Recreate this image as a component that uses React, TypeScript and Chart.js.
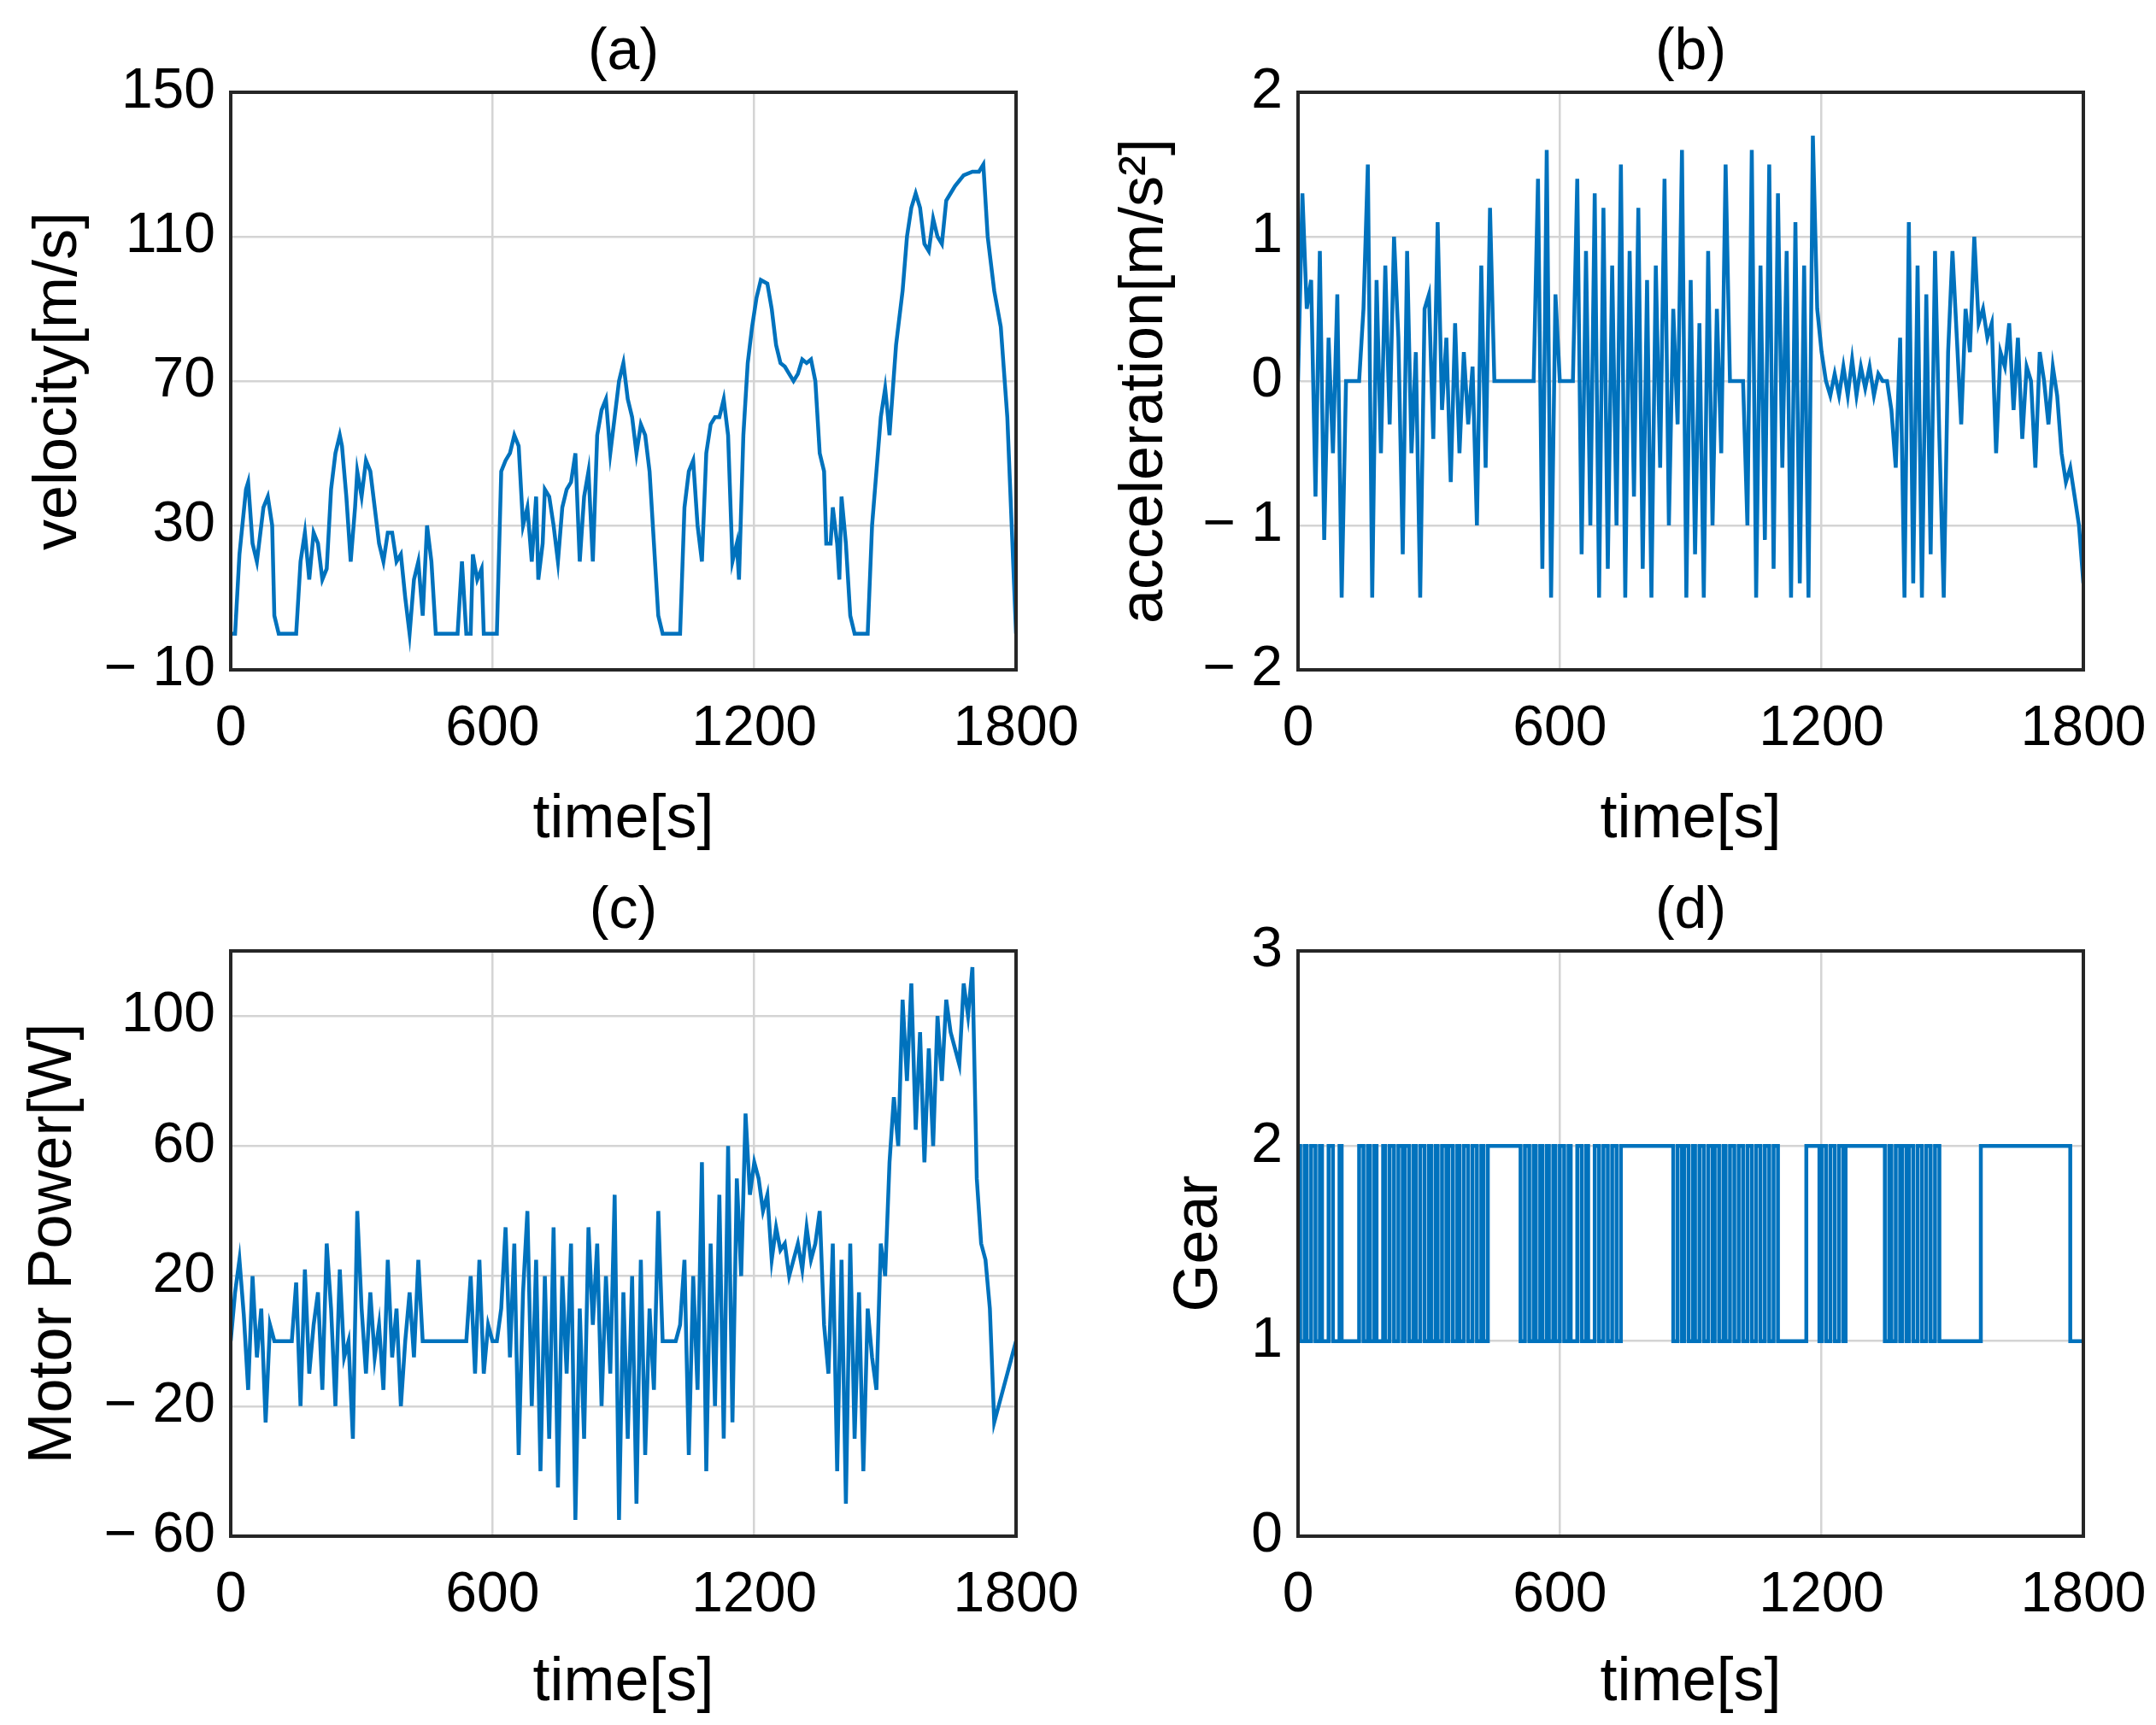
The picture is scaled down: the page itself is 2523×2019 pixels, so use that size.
import React, { useEffect, useRef } from "react";
import { Chart, registerables } from "chart.js";
Chart.register(...registerables);

const velT = [0,10,20,35,40,50,60,75,85,95,100,110,150,160,170,180,190,200,210,220,230,240,250,255,265,275,285,290,300,310,320,330,340,350,360,370,380,390,400,410,420,430,440,450,460,470,520,530,540,550,555,565,575,580,610,620,630,640,650,660,670,680,690,700,705,715,720,730,740,750,760,770,780,790,800,810,820,830,840,850,860,870,880,890,900,910,920,930,940,950,960,970,980,990,1030,1040,1050,1060,1070,1080,1090,1100,1110,1120,1130,1140,1150,1160,1165,1175,1185,1195,1205,1215,1230,1240,1250,1260,1270,1280,1290,1300,1310,1320,1330,1340,1350,1360,1365,1375,1380,1390,1395,1400,1410,1420,1430,1460,1470,1480,1490,1500,1505,1510,1525,1540,1550,1560,1570,1580,1590,1600,1610,1620,1630,1640,1660,1680,1700,1715,1725,1735,1750,1765,1780,1800];
const velV = [0,0,22,40,42,25,20,35,38,30,5,0,0,20,28,15,28,25,15,18,40,50,55,52,38,20,35,45,38,48,45,35,25,20,28,28,20,22,10,0,15,20,5,30,20,0,0,20,0,0,22,15,18,0,0,45,48,50,55,52,30,35,20,38,15,25,40,38,30,20,35,40,42,50,20,38,45,20,55,62,65,50,60,70,75,65,60,50,58,55,45,25,5,0,0,35,45,48,30,20,50,58,60,60,65,55,20,25,15,55,75,85,93,98,97,90,80,75,74,72,70,72,76,75,76,70,50,45,25,25,35,25,15,38,25,5,0,0,30,45,60,68,62,55,80,95,110,118,122,118,108,106,115,110,108,120,124,127,128,128,130,110,95,85,60,0];

const accV = [0,1.3,0.5,0.7,-0.8,0.9,-1.1,0.3,-0.5,0.6,
-1.5,0,0,0,0,0.5,1.5,-1.5,0.7,-0.5,
0.8,-0.3,1.0,0.3,-1.2,0.9,-0.5,0.2,-1.5,0.5,
0.6,-0.4,1.1,-0.2,0.3,-0.7,0.4,-0.5,0.2,-0.3,
0.1,-1.0,0.8,-0.6,1.2,0,0,0,0,0,
0,0,0,0,0,1.4,-1.3,1.6,-1.5,0.6,
0,0,0,0,1.4,-1.2,0.9,-1.0,1.3,-1.5,
1.2,-1.3,0.8,-1.0,1.5,-1.5,0.9,-0.8,1.2,-1.3,
0.7,-1.5,0.8,-0.6,1.4,-1.0,0.5,-0.3,1.6,-1.5,
0.7,-1.2,0.4,-1.5,0.9,-1.0,0.5,-0.5,1.5,0,
0,0,0,-1.0,1.6,-1.5,0.8,-1.1,1.5,-1.3,
1.3,-0.6,0.9,-1.5,1.1,-1.4,0.8,-1.5,1.7,0.5,
0.2,0,-0.1,0.05,-0.1,0.1,-0.1,0.15,-0.1,0.1,
-0.05,0.1,-0.1,0.05,0,0,-0.2,-0.6,0.3,-1.5,
1.1,-1.4,0.8,-1.5,0.6,-1.2,0.9,-0.4,-1.5,0.2,
0.9,0.3,-0.3,0.5,0.2,1.0,0.4,0.5,0.3,0.4,
-0.5,0.2,0.1,0.4,-0.2,0.3,-0.4,0.1,0.0,-0.6,
0.2,0,-0.3,0.1,-0.1,-0.5,-0.7,-0.6,-0.8,-1.0,
-1.4];

const powV = [0,15,25,8,-15,20,-5,10,-25,5,
0,0,0,0,0,18,-20,22,-10,5,
15,-15,30,10,-20,22,-5,0,-30,40,
10,-10,15,-5,5,-15,25,-5,10,-20,
0,15,-5,25,0,0,0,0,0,0,
0,0,0,0,0,20,-10,25,-10,5,
0,0,10,35,-5,30,-35,15,40,-20,
25,-40,20,-30,35,-45,20,-10,30,-55,
10,-30,35,5,30,-20,20,-10,45,-55,
15,-30,20,-50,25,-35,10,-15,40,0,
0,0,0,5,25,-35,20,-15,55,-40,
30,-20,45,-30,60,-25,50,20,70,45,
55,50,40,45,25,35,28,30,20,25,
30,22,35,25,30,40,5,-10,30,-40,
25,-50,30,-30,15,-40,10,-5,-15,30,
20,55,75,60,105,80,110,65,95,55,
90,60,100,80,105,95,90,85,110,100,
115,50,30,25,10,-25,-20,-15,-10,-5,
0];

const gearToggles = [5,15,20,30,40,50,55,70,80,95,100,140,150,160,165,175,180,195,200,210,220,230,240,245,255,265,270,280,290,300,305,315,320,330,340,345,355,365,370,380,390,400,410,420,425,435,
510,520,530,540,545,555,560,570,575,585,590,600,610,620,625,640,650,660,665,680,690,700,710,720,730,740,
860,870,880,885,895,905,910,920,930,940,950,955,965,975,980,990,1000,1010,1020,1030,1040,1050,1060,1070,1080,1090,
1100,1165,1195,1200,1210,1220,1230,1240,1250,1255,
1345,1355,1360,1370,1380,1385,1395,1400,1410,1420,1430,1440,1450,1460,1470,1565,1770];

const xTicks = [0, 600, 1200, 1800];
const velTicks = [-10, 30, 70, 110, 150];
const accTicks = [-2, -1, 0, 1, 2];
const powTicks = [-60, -20, 20, 60, 100];
const gearTicks = [0, 1, 2, 3];

const BLUE = "#0072BD";
const FONT = "Arial, 'Liberation Sans', sans-serif";

function pts(t: number[], v: number[]) { return t.map((x, i) => ({ x, y: v[i] })); }
function evenPts(v: number[]) { return v.map((y, i) => ({ x: i * 10, y })); }
function gearPts() {
  const out = [{ x: 0, y: 2 }];
  let g = 2;
  for (const t of gearToggles) { g = g === 2 ? 1 : 2; out.push({ x: t, y: g }); }
  out.push({ x: 1800, y: g });
  return out;
}
function fmt(v: number) { return v < 0 ? "\u2212 " + Math.abs(v) : String(v); }

type Cfg = { left: number; top: number; w: number; h: number; yw: number; padTop: number; padRight: number; xh: number;
  ymin: number; ymax: number; ticks: number[]; ylabel: string; ypad: number; title: string; data: any[]; stepped?: boolean };

const frame = {
  id: "frame",
  afterDraw(chart: any) {
    const { ctx, chartArea: a } = chart;
    ctx.save();
    ctx.strokeStyle = "#262626"; ctx.lineWidth = 4;
    ctx.strokeRect(a.left, a.top, a.right - a.left, a.bottom - a.top);
    ctx.fillStyle = "#000"; ctx.font = `68px ${FONT}`; ctx.textAlign = "center"; ctx.textBaseline = "bottom";
    ctx.fillText(chart.options.plugins.ptitle.text, (a.left + a.right) / 2, a.top - 12);
    ctx.restore();
  },
};

function Panel({ c }: { c: Cfg }) {
  const ref = useRef<HTMLCanvasElement>(null);
  useEffect(() => {
    const ch = new Chart(ref.current!, {
      type: "line",
      data: { datasets: [{ data: c.data, borderColor: BLUE, borderWidth: 4.5, pointRadius: 0, stepped: c.stepped ? "before" : false, tension: 0 } as any] },
      options: {
        animation: false, responsive: false, maintainAspectRatio: false,
        layout: { padding: { top: c.padTop, right: c.padRight, left: 0, bottom: 0 } },
        plugins: { legend: { display: false }, tooltip: { enabled: false }, ptitle: { text: c.title } } as any,
        scales: {
          x: { type: "linear", min: 0, max: 1800,
            afterBuildTicks: (s: any) => { s.ticks = xTicks.map((value) => ({ value })); },
            ticks: { font: { size: 66, family: FONT }, color: "#000", padding: 30, maxRotation: 0, callback: (v: any) => String(v) },
            grid: { color: "#d4d4d4", lineWidth: 2.5, tickLength: 0 }, border: { display: false },
            title: { display: true, text: "time[s]", font: { size: 72, family: FONT }, color: "#000", padding: { top: 0, bottom: 6 } },
            afterFit: (s: any) => { s.height = c.xh; s.paddingLeft = 0; s.paddingRight = 0; } },
          y: { min: c.ymin, max: c.ymax,
            afterBuildTicks: (s: any) => { s.ticks = c.ticks.map((value) => ({ value })); },
            ticks: { font: { size: 66, family: FONT }, color: "#000", padding: 18, callback: (v: any) => fmt(v) },
            grid: { color: "#d4d4d4", lineWidth: 2.5, tickLength: 0 }, border: { display: false },
            title: { display: true, text: c.ylabel, font: { size: 72, family: FONT }, color: "#000", padding: { top: c.ypad, bottom: 0 } },
            afterFit: (s: any) => { s.width = c.yw; s.paddingTop = 0; s.paddingBottom = 0; } },
        },
      } as any,
      plugins: [frame],
    });
    return () => ch.destroy();
  }, []);
  return <canvas ref={ref} width={c.w} height={c.h} style={{ position: "absolute", left: c.left, top: c.top, width: c.w, height: c.h }} />;
}

const panels: Cfg[] = [
  { left: 0, top: 0, w: 1261, h: 1009, yw: 270, padTop: 108, padRight: 72, xh: 225, ymin: -10, ymax: 150, ticks: velTicks, ylabel: "velocity[m/s]", ypad: 26, title: "(a)", data: pts(velT, velV) },
  { left: 1261, top: 0, w: 1262, h: 1009, yw: 258, padTop: 108, padRight: 85, xh: 225, ymin: -2, ymax: 2, ticks: accTicks, ylabel: "acceleration[m/s\u00B2]", ypad: 36, title: "(b)", data: evenPts(accV) },
  { left: 0, top: 1009, w: 1261, h: 1010, yw: 270, padTop: 104, padRight: 72, xh: 221, ymin: -60, ymax: 120, ticks: powTicks, ylabel: "Motor Power[W]", ypad: 20, title: "(c)", data: evenPts(powV) },
  { left: 1261, top: 1009, w: 1262, h: 1010, yw: 258, padTop: 104, padRight: 85, xh: 221, ymin: 0, ymax: 3, ticks: gearTicks, ylabel: "Gear", ypad: 100, title: "(d)", data: gearPts(), stepped: true },
];

export default function App() {
  return (
    <div style={{ position: "relative", width: 2523, height: 2019, background: "#fff", margin: -8 }}>
      {panels.map((c, i) => <Panel key={i} c={c} />)}
    </div>
  );
}
